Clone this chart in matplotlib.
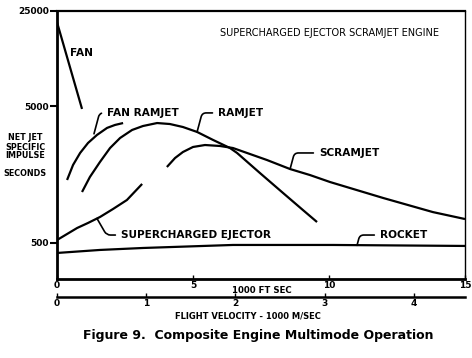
import matplotlib
matplotlib.use("Agg")
import matplotlib.pyplot as plt
import matplotlib.transforms as mtransforms

# ---- data (flight velocity in 1000 ft/sec, specific impulse in seconds) ----
fan_v = [0.0, 0.92]
fan_isp = [20700, 4790]

fan_ramjet_v = [0.37, 0.59, 0.85, 1.14, 1.47, 1.84, 2.13, 2.43]
fan_ramjet_isp = [1445, 1862, 2280, 2698, 3090, 3478, 3656, 3777]

ramjet_v = [0.92, 1.21, 1.58, 1.95, 2.32, 2.76, 3.16, 3.68, 4.15, 4.63, 5.15, 5.74,
            6.36, 6.62, 7.46, 8.31, 9.04, 9.56]
ramjet_isp = [1180, 1521, 1959, 2478, 2936, 3360, 3592, 3777, 3715, 3532, 3250, 2838,
              2478, 2280, 1626, 1161, 871, 711]

scramjet_v = [4.04, 4.34, 4.63, 5.00, 5.44, 5.99, 6.47, 7.72, 8.57, 9.30, 10.04,
              11.99, 13.82, 15.0]
scramjet_isp = [1799, 2094, 2317, 2522, 2607, 2565, 2478, 2024, 1738, 1571, 1396,
                1067, 841, 748]

ejector_v = [0.0, 0.37, 0.74, 1.14, 1.58, 2.06, 2.57, 3.13]
ejector_isp = [525, 581, 643, 700, 774, 886, 1031, 1352]

rocket_v = [0.0, 1.58, 3.16, 6.47, 10.15, 15.0]
rocket_isp = [422, 444, 459, 483, 483, 475]

y_ticks = [500, 5000, 25000]
y_tick_labels = ["500", "5000", "25000"]
x_ticks = [0, 5, 10, 15]
x_tick_labels = ["0", "5", "10", "15"]
ms_ticks = [0, 1, 2, 3, 4]
ms_tick_labels = ["0", "1", "2", "3", "4"]

FT_TO_M = 0.3048

W, H = 472, 358
fig = plt.figure(figsize=(W / 100, H / 100), dpi=100)
fig.patch.set_facecolor("white")
ax = fig.add_axes([57 / W, 1 - 279 / H, (465 - 57) / W, (279 - 11) / H])
ax.set_yscale("log")
ax.set_xlim(0, 15)
ax.set_ylim(272, 25000)

lw = 1.6
for v, isp in [(fan_v, fan_isp), (fan_ramjet_v, fan_ramjet_isp), (ramjet_v, ramjet_isp),
               (scramjet_v, scramjet_isp), (ejector_v, ejector_isp), (rocket_v, rocket_isp)]:
    ax.plot(v, isp, color="black", lw=lw, solid_capstyle="butt", solid_joinstyle="round")

ax.spines["left"].set_linewidth(2.0)
ax.spines["bottom"].set_linewidth(2.0)
ax.spines["top"].set_linewidth(1.6)
ax.spines["right"].set_linewidth(1.0)

ax.set_yticks(y_ticks)
ax.set_yticklabels(y_tick_labels)
ax.yaxis.set_minor_locator(matplotlib.ticker.NullLocator())
ax.tick_params(axis="y", direction="out", length=5, width=1.5, labelsize=6.5, pad=1)
for t in ax.get_yticklabels():
    t.set_fontweight("bold")

ax.set_xticks(x_ticks)
ax.set_xticklabels(x_tick_labels)
ax.tick_params(axis="x", direction="in", length=3, width=1, labelsize=6.5, pad=1.5)
for t in ax.get_xticklabels():
    t.set_fontweight("bold")

trans = mtransforms.blended_transform_factory(ax.transData, ax.transAxes)
ax.text(7.54, -0.025, "1000 FT SEC", transform=trans, ha="center", va="top",
        fontsize=6.2, fontweight="bold")

sec = ax.secondary_xaxis(-(297 - 279) / (279 - 11),
                         functions=(lambda v: v * FT_TO_M, lambda m: m / FT_TO_M))
sec.set_xticks(ms_ticks)
sec.set_xticklabels(ms_tick_labels)
sec.tick_params(direction="in", length=3, width=1, labelsize=6.5, pad=1.5)
sec.spines["bottom"].set_linewidth(1.8)
for t in sec.get_xticklabels():
    t.set_fontweight("bold")

lab = dict(fontsize=7.6, fontweight="bold", ha="left", va="center")
arrow = dict(arrowstyle="-", lw=1.2, color="black", shrinkA=2, shrinkB=0,
             connectionstyle="angle,angleA=0,angleB=75,rad=4")

ax.text(0.48, 12300, "FAN", **lab)
ax.annotate("FAN RAMJET", xy=(1.36, 3150), xytext=(1.84, 4480), arrowprops=arrow, **lab)
ax.annotate("RAMJET", xy=(5.15, 3250), xytext=(5.92, 4480), arrowprops=arrow, **lab)
ax.annotate("SCRAMJET", xy=(8.57, 1740), xytext=(9.63, 2280), arrowprops=arrow, **lab)
ax.annotate("SUPERCHARGED EJECTOR", xy=(1.47, 755), xytext=(2.35, 571),
            arrowprops=dict(arrow, connectionstyle="angle,angleA=0,angleB=-60,rad=4"), **lab)
ax.annotate("ROCKET", xy=(11.03, 480), xytext=(11.87, 571), arrowprops=arrow, **lab)

ax.text(0.40, 0.918, "SUPERCHARGED EJECTOR SCRAMJET ENGINE", transform=ax.transAxes,
        ha="left", va="center", fontsize=7)

for txt, yy in [("NET JET", 137), ("SPECIFIC", 147), ("IMPULSE", 156), ("SECONDS", 173)]:
    fig.text(25 / W, 1 - yy / H, txt, ha="center", va="center", fontsize=5.8, fontweight="bold")

fig.text(248 / W, 1 - 316 / H, "FLIGHT VELOCITY - 1000 M/SEC", ha="center", va="center",
         fontsize=6, fontweight="bold")
fig.text(258 / W, 1 - 336 / H, "Figure 9.  Composite Engine Multimode Operation",
         ha="center", va="center", fontsize=9.0, fontweight="bold")

fig.savefig("out.png", dpi=100, facecolor="white")
